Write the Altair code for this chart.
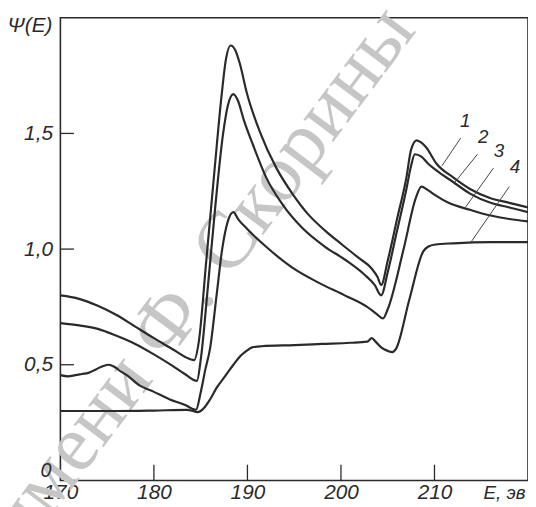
import altair as alt
import pandas as pd

# ---- data ----
c1_E = [170, 172, 174, 176, 178, 180, 182, 183.3, 184.3, 184.8, 185.6, 186.5, 187.2, 187.7, 188.2, 188.7, 189.2, 189.9, 191.3, 193.1, 194.8, 196.5, 198.3, 200.1, 201.8, 203.3, 203.9, 204.3, 205.0, 206.0, 207.0, 207.5, 208.1, 208.6, 209.1, 210.2, 212.0, 213.8, 216, 218, 220]
c1_y = [0.80, 0.785, 0.755, 0.715, 0.665, 0.615, 0.567, 0.535, 0.52, 0.60, 0.95, 1.35, 1.65, 1.82, 1.88, 1.86, 1.80, 1.68, 1.51, 1.35, 1.24, 1.15, 1.08, 1.02, 0.965, 0.915, 0.88, 0.845, 0.95, 1.13, 1.31, 1.43, 1.47, 1.46, 1.44, 1.37, 1.31, 1.26, 1.22, 1.20, 1.18]

c2_E = [170, 172, 174, 176, 178, 180, 182, 183.3, 184.6, 185.0, 185.8, 186.6, 187.4, 187.9, 188.5, 189.0, 189.6, 190.6, 192.0, 193.8, 195.9, 198.3, 200.4, 202.5, 203.6, 204.3, 205.0, 206.0, 207.0, 207.5, 207.9, 208.6, 209.3, 210.2, 212.0, 213.8, 216, 218, 220]
c2_y = [0.68, 0.67, 0.655, 0.625, 0.59, 0.545, 0.495, 0.46, 0.43, 0.52, 0.85, 1.20, 1.50, 1.62, 1.67, 1.64, 1.56, 1.45, 1.31, 1.19, 1.09, 1.01, 0.955, 0.89, 0.845, 0.80, 0.90, 1.08, 1.26, 1.36, 1.41, 1.40, 1.37, 1.34, 1.29, 1.24, 1.20, 1.18, 1.16]

c3_E = [170, 170.8, 171.6, 172.3, 173.0, 173.8, 174.6, 175.2, 175.8, 176.5, 177.1, 178.5, 179.9, 181.7, 183.4, 184.1, 184.5, 185.0, 185.5, 186.0, 186.7, 187.3, 187.9, 188.5, 189.0, 189.9, 192.0, 194.8, 197.6, 200.4, 202.8, 203.8, 204.5, 205.0, 206.7, 208.0, 208.6, 209.3, 210.2, 211.5, 213.8, 216, 218, 220]
c3_y = [0.455, 0.45, 0.455, 0.46, 0.465, 0.48, 0.495, 0.50, 0.49, 0.47, 0.455, 0.41, 0.385, 0.35, 0.325, 0.31, 0.305, 0.38, 0.48, 0.57, 0.80, 1.00, 1.12, 1.16, 1.13, 1.09, 1.01, 0.92, 0.855, 0.80, 0.75, 0.72, 0.70, 0.74, 1.00, 1.22, 1.27, 1.255, 1.23, 1.20, 1.17, 1.145, 1.13, 1.12]

c4_E = [170, 176, 180, 183.5, 184.2, 184.6, 185.0, 185.4, 186.0, 186.7, 187.6, 188.5, 189.3, 189.9, 190.5, 191.5, 195, 198, 201, 202.8, 203.3, 203.7, 204.3, 205.0, 205.5, 205.9, 207.3, 208.8, 209.3, 210.1, 212, 216, 220]
c4_y = [0.30, 0.30, 0.302, 0.305, 0.30, 0.295, 0.30, 0.315, 0.35, 0.40, 0.45, 0.50, 0.54, 0.56, 0.575, 0.58, 0.585, 0.59, 0.595, 0.60, 0.615, 0.60, 0.575, 0.56, 0.555, 0.57, 0.78, 0.99, 1.01, 1.02, 1.025, 1.03, 1.03]

x_tick_values = [180, 190, 200, 210]
x_label_values = [170, 180, 190, 200, 210]
y_tick_values = [0.5, 1.0, 1.5]
y_label_values = [0.5, 1.0, 1.5]
zero_label = ["0"]

curve_names = ["1", "2", "3", "4"]
label_E = [213.3, 215.2, 216.9, 218.6]
label_y = [1.51, 1.44, 1.38, 1.31]
lead_E1 = [212.8, 214.6, 216.3, 218.0]
lead_y1 = [1.48, 1.41, 1.35, 1.27]
lead_E2 = [210.8, 212.2, 213.3, 213.9]
lead_y2 = [1.36, 1.29, 1.18, 1.03]

watermark = "имени Ф. Скорины"

# ---- build tables ----
rows = []
for name, Es, ys in zip(curve_names, [c1_E, c2_E, c3_E, c4_E], [c1_y, c2_y, c3_y, c4_y]):
    for i, (e, v) in enumerate(zip(Es, ys)):
        rows.append({"curve": name, "E": e, "psi": v, "i": i})
curves = pd.DataFrame(rows)

xt = pd.DataFrame({"E": x_tick_values, "y0": [0.0] * 4, "y1": [0.068] * 4})
yt = pd.DataFrame({"v": y_tick_values, "x0": [170.0] * 3, "x1": [171.45] * 3})
labels = pd.DataFrame({"name": curve_names, "E": label_E, "psi": label_y,
                       "E1": lead_E1, "y1": lead_y1, "E2": lead_E2, "y2": lead_y2})

INK = "#2a2a2a"
FONT = "Liberation Sans Narrow, Liberation Sans, Arial"

xscale = alt.Scale(domain=[170, 220], nice=False, zero=False)
yscale = alt.Scale(domain=[0, 2.0], nice=False, zero=False)

wm = alt.Chart(pd.DataFrame({"t": [watermark]})).mark_text(
    font="Liberation Serif", fontSize=82, color="#c6c6c6", angle=307,
    align="center", baseline="middle"
).encode(text="t:N", x=alt.value(142), y=alt.value(262))

lines = alt.Chart(curves).mark_line(
    color=INK, strokeWidth=2.2, interpolate="monotone"
).encode(
    x=alt.X("E:Q", scale=xscale,
            axis=alt.Axis(values=x_label_values, title=None, grid=False, ticks=False,
                          tickSize=0, domain=False, labelFont=FONT, labelFontSize=21,
                          labelFontStyle="italic", labelColor=INK, labelPadding=1,
                          labelFlush=False)),
    y=alt.Y("psi:Q", scale=yscale,
            axis=alt.Axis(values=y_label_values, title=None, grid=False, ticks=False,
                          tickSize=0, domain=False, labelFont=FONT, labelFontSize=21,
                          labelFontStyle="italic", labelColor=INK, labelPadding=8,
                          labelFlush=False,
                          labelExpr="replace(format(datum.value, '.1f'), '.', ',')")),
    detail="curve:N",
    order="i:Q",
)

zero = alt.Chart(pd.DataFrame({"t": zero_label, "E": [170.0], "psi": [0.0]})).mark_text(
    font=FONT, fontSize=20, fontStyle="italic", color=INK, align="right", baseline="middle",
    dx=-9, dy=-9
).encode(x=alt.X("E:Q", scale=xscale), y=alt.Y("psi:Q", scale=yscale), text="t:N")

xticks = alt.Chart(xt).mark_rule(color=INK, strokeWidth=1.3).encode(
    x=alt.X("E:Q", scale=xscale), y=alt.Y("y0:Q", scale=yscale), y2="y1:Q")
yticks = alt.Chart(yt).mark_rule(color=INK, strokeWidth=1.3).encode(
    y=alt.Y("v:Q", scale=yscale), x=alt.X("x0:Q", scale=xscale), x2="x1:Q")

leaders = alt.Chart(labels).mark_rule(color="#444", strokeWidth=1).encode(
    x=alt.X("E1:Q", scale=xscale), y=alt.Y("y1:Q", scale=yscale), x2="E2:Q", y2="y2:Q")
nums = alt.Chart(labels).mark_text(
    font=FONT, fontSize=19, fontStyle="italic", color=INK, align="center", baseline="bottom"
).encode(x=alt.X("E:Q", scale=xscale), y=alt.Y("psi:Q", scale=yscale), text="name:N")

ytitle = alt.Chart(pd.DataFrame({"t": ["Ψ(E)"]})).mark_text(
    font=FONT, fontSize=21, fontStyle="italic", color=INK, align="right", baseline="middle"
).encode(text="t:N", x=alt.value(-8), y=alt.value(8))
xtitle = alt.Chart(pd.DataFrame({"t": ["E, эв"]})).mark_text(
    font=FONT, fontSize=19, fontStyle="italic", color=INK, align="left", baseline="middle"
).encode(text="t:N", x=alt.value(428), y=alt.value(481))

chart = alt.layer(wm, xticks, yticks, lines, leaders, nums, zero, ytitle, xtitle).properties(
    width=473, height=468,
    autosize=alt.AutoSizeParams(type="none"),
    padding={"left": 53, "top": 7, "right": 0, "bottom": 24},
    background="white",
).configure_view(stroke=INK, strokeWidth=1.6)

chart.save("out.html", embed_options={"renderer": "svg", "actions": False})
